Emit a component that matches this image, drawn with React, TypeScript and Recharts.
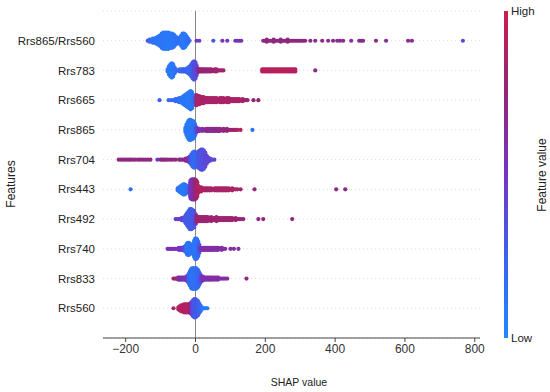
import React from 'react';
import { ScatterChart, Scatter, XAxis, YAxis, CartesianGrid, ReferenceLine } from 'recharts';

type Bin = [number, number, number]; // [SHAP value, number of samples, feature value 0..1]

const features = ['Rrs865/Rrs560', 'Rrs783', 'Rrs665', 'Rrs865', 'Rrs704', 'Rrs443', 'Rrs492', 'Rrs740', 'Rrs833', 'Rrs560'];
const xTicks = [-200, 0, 200, 400, 600, 800];

const rrs865_560: Bin[] = [
  [-137, 1, 0.4], [-132, 2, 0.2], [-127, 2, 0.15], [-122, 3, 0.15], [-117, 3, 0.15], [-112, 4, 0.12], [-107, 5, 0.12],
  [-102, 6, 0.12], [-97, 8, 0.12], [-92, 9, 0.12], [-87, 9, 0.1], [-82, 9, 0.1], [-77, 9, 0.1], [-72, 8, 0.1],
  [-67, 8, 0.1], [-62, 7, 0.12], [-57, 5, 0.12], [-53, 4, 0.15], [-49, 3, 0.15], [-45, 4, 0.15], [-41, 6, 0.12],
  [-37, 8, 0.12], [-33, 8, 0.1], [-29, 7, 0.1], [-25, 5, 0.12], [-21, 3, 0.15], [-17, 1, 0.2],
  [3, 1, 0.5], [11, 1, 0.45], [51, 1, 0.3], [77, 1, 0.55], [91, 1, 0.5], [114, 1, 0.5], [120, 1, 0.55], [126, 1, 0.5], [131, 1, 0.55],
  [194, 1, 0.75], [199, 1, 0.7], [204, 2, 0.75], [209, 1, 0.7], [214, 1, 0.75], [219, 1, 0.7], [224, 2, 0.75], [229, 1, 0.7],
  [234, 1, 0.75], [239, 1, 0.7], [244, 2, 0.7], [249, 1, 0.75], [254, 1, 0.7], [259, 1, 0.75], [264, 2, 0.7], [269, 1, 0.75],
  [274, 1, 0.7], [279, 1, 0.75], [284, 1, 0.7], [289, 1, 0.75], [294, 1, 0.7], [299, 1, 0.75], [304, 1, 0.7], [309, 1, 0.7], [314, 1, 0.75],
  [329, 1, 0.7], [343, 1, 0.65], [363, 1, 0.7], [380, 1, 0.65], [394, 1, 0.7], [406, 1, 0.65], [414, 1, 0.7], [423, 1, 0.65],
  [446, 1, 0.6], [469, 1, 0.7], [475, 1, 0.65], [480, 1, 0.7], [517, 1, 0.7], [546, 1, 0.65], [609, 1, 0.7], [620, 1, 0.65], [766, 1, 0.4],
];

const rrs783: Bin[] = [
  [-80, 2, 0.1], [-76, 5, 0.12], [-72, 7, 0.1], [-68, 8, 0.1], [-64, 7, 0.1], [-60, 4, 0.12], [-57, 2, 0.15],
  [-54, 1, 0.2], [-49, 1, 0.2], [-45, 2, 0.2], [-40, 2, 0.2], [-36, 2, 0.25], [-32, 2, 0.25], [-28, 2, 0.25], [-24, 3, 0.25],
  [-20, 4, 0.2], [-16, 5, 0.2], [-12, 7, 0.25], [-8, 9, 0.3], [-4, 10, 0.35], [0, 9, 0.35], [3, 6, 0.4], [6, 3, 0.5],
  [9, 2, 0.75], [13, 2, 0.8], [17, 2, 0.75], [21, 2, 0.8], [25, 2, 0.75], [30, 2, 0.8], [35, 2, 0.75], [40, 2, 0.8],
  [45, 2, 0.8], [50, 1, 0.75], [55, 2, 0.8], [60, 2, 0.85], [65, 1, 0.8], [70, 1, 0.8], [75, 1, 0.85], [80, 1, 0.8],
  [191, 2, 0.92], [196, 2, 0.92], [201, 2, 0.9], [206, 2, 0.92], [211, 2, 0.92], [216, 2, 0.9], [221, 2, 0.92], [226, 2, 0.92],
  [231, 2, 0.9], [236, 2, 0.92], [241, 2, 0.92], [246, 2, 0.9], [251, 2, 0.92], [256, 2, 0.92], [261, 2, 0.9], [266, 2, 0.92],
  [271, 2, 0.92], [276, 2, 0.9], [281, 2, 0.92], [286, 2, 0.9], [343, 1, 0.7],
];

const rrs665: Bin[] = [
  [-103, 1, 0.25], [-77, 1, 0.2], [-69, 1, 0.2], [-63, 1, 0.2], [-57, 2, 0.2], [-52, 2, 0.15], [-47, 3, 0.15], [-42, 3, 0.15],
  [-38, 4, 0.12], [-34, 5, 0.12], [-30, 6, 0.12], [-26, 7, 0.1], [-22, 8, 0.1], [-18, 9, 0.1], [-14, 10, 0.1], [-10, 9, 0.12],
  [-6, 6, 0.15], [-2, 3, 0.3],
  [3, 6, 0.8], [7, 5, 0.85], [11, 5, 0.85], [15, 4, 0.85], [19, 4, 0.85], [23, 4, 0.85], [27, 3, 0.85], [31, 3, 0.85],
  [35, 3, 0.85], [40, 3, 0.85], [45, 3, 0.85], [50, 3, 0.85], [55, 3, 0.85], [60, 3, 0.85], [65, 2, 0.85], [70, 3, 0.85],
  [75, 3, 0.85], [80, 3, 0.85], [85, 2, 0.85], [90, 3, 0.85], [95, 3, 0.85], [100, 2, 0.85], [105, 2, 0.85], [110, 2, 0.85],
  [115, 2, 0.85], [120, 2, 0.85], [125, 2, 0.85], [130, 1, 0.85], [135, 2, 0.85], [140, 1, 0.8], [145, 1, 0.8], [149, 1, 0.8],
  [166, 1, 0.75], [180, 1, 0.75],
];

const rrs865: Bin[] = [
  [-29, 3, 0.15], [-26, 6, 0.12], [-23, 8, 0.1], [-20, 10, 0.1], [-17, 11, 0.1], [-14, 11, 0.1], [-11, 10, 0.1],
  [-8, 10, 0.1], [-5, 9, 0.12], [-2, 7, 0.15], [0, 5, 0.2],
  [3, 3, 0.4], [7, 2, 0.5], [11, 2, 0.55], [15, 1, 0.55], [20, 2, 0.6], [25, 1, 0.6], [30, 2, 0.65], [35, 2, 0.65],
  [40, 2, 0.65], [45, 2, 0.65], [50, 2, 0.68], [55, 2, 0.68], [60, 2, 0.7], [65, 2, 0.7], [70, 2, 0.7], [75, 1, 0.72],
  [80, 2, 0.72], [85, 1, 0.75], [90, 2, 0.75], [95, 1, 0.75], [100, 1, 0.78], [105, 1, 0.8], [110, 1, 0.8], [115, 1, 0.82],
  [120, 1, 0.85], [129, 1, 0.88], [163, 1, 0.12],
];

const rrs704: Bin[] = [
  [-220, 1, 0.72], [-214, 1, 0.72], [-208, 1, 0.72], [-202, 1, 0.72], [-196, 1, 0.72], [-190, 1, 0.72], [-185, 1, 0.72],
  [-178, 1, 0.72], [-171, 1, 0.72], [-163, 1, 0.72], [-157, 1, 0.72], [-150, 1, 0.72], [-143, 1, 0.72], [-136, 1, 0.72],
  [-129, 1, 0.72], [-109, 1, 0.45], [-100, 1, 0.72], [-95, 1, 0.72], [-90, 1, 0.72], [-85, 1, 0.72], [-79, 1, 0.72], [-72, 1, 0.72],
  [-65, 1, 0.72], [-57, 1, 0.72], [-47, 1, 0.72], [-43, 1, 0.72], [-38, 1, 0.7], [-33, 1, 0.7], [-28, 2, 0.65], [-24, 2, 0.65],
  [-20, 3, 0.55], [-16, 4, 0.45],
  [-12, 6, 0.25], [-8, 8, 0.2], [-4, 9, 0.2], [0, 8, 0.2], [4, 8, 0.25], [8, 9, 0.3], [12, 10, 0.32], [16, 11, 0.35],
  [20, 11, 0.35], [24, 10, 0.35], [28, 8, 0.38], [32, 5, 0.4], [36, 3, 0.4], [42, 2, 0.4], [48, 1, 0.4], [54, 1, 0.4],
];

const rrs443: Bin[] = [
  [-186, 1, 0.15],
  [-51, 2, 0.12], [-47, 3, 0.12], [-43, 4, 0.1], [-39, 5, 0.1], [-35, 6, 0.1], [-31, 6, 0.1], [-27, 5, 0.12], [-23, 4, 0.15],
  [-19, 3, 0.25], [-15, 8, 0.45], [-14, 10, 0.5], [-10, 11, 0.55], [-6, 11, 0.6], [-2, 11, 0.7], [2, 10, 0.8], [5, 8, 0.85],
  [8, 4, 0.88], [12, 3, 0.88], [16, 3, 0.88], [20, 2, 0.85], [25, 2, 0.85], [30, 2, 0.85], [35, 2, 0.85], [40, 2, 0.85],
  [45, 2, 0.85], [50, 1, 0.8], [55, 2, 0.85], [60, 2, 0.85], [65, 2, 0.85], [70, 2, 0.85], [75, 2, 0.85], [80, 2, 0.85],
  [85, 2, 0.85], [90, 2, 0.85], [95, 2, 0.85], [100, 1, 0.85], [105, 2, 0.85], [110, 1, 0.85], [115, 1, 0.85], [120, 1, 0.85],
  [129, 1, 0.8], [169, 1, 0.75], [403, 1, 0.72], [429, 1, 0.72],
];

const rrs492: Bin[] = [
  [-57, 1, 0.45], [-52, 1, 0.45], [-48, 1, 0.45], [-44, 1, 0.45], [-40, 2, 0.45], [-36, 2, 0.4],
  [-32, 3, 0.35], [-28, 5, 0.3], [-24, 7, 0.3], [-20, 9, 0.28], [-16, 11, 0.28], [-12, 11, 0.28], [-8, 10, 0.3], [-4, 9, 0.32], [0, 6, 0.4],
  [3, 4, 0.75], [7, 3, 0.8], [11, 3, 0.8], [15, 3, 0.8], [19, 3, 0.8], [23, 3, 0.8], [27, 3, 0.8], [31, 3, 0.8],
  [35, 3, 0.8], [40, 2, 0.8], [45, 3, 0.8], [50, 2, 0.8], [55, 2, 0.8], [60, 3, 0.8], [65, 2, 0.8], [70, 2, 0.8],
  [75, 2, 0.8], [80, 2, 0.8], [85, 2, 0.8], [90, 2, 0.8], [95, 2, 0.8], [100, 2, 0.8], [105, 2, 0.8], [110, 1, 0.8],
  [115, 2, 0.8], [120, 1, 0.78], [125, 1, 0.78], [130, 1, 0.78], [137, 1, 0.75], [180, 1, 0.72], [194, 1, 0.72], [277, 1, 0.72],
];

const rrs740: Bin[] = [
  [-80, 1, 0.55], [-76, 1, 0.55], [-72, 1, 0.55], [-68, 1, 0.55], [-64, 1, 0.55], [-60, 1, 0.55], [-56, 1, 0.55], [-52, 1, 0.5],
  [-48, 2, 0.5], [-44, 2, 0.5], [-40, 2, 0.45], [-36, 2, 0.45], [-32, 3, 0.4],
  [-28, 4, 0.2], [-25, 6, 0.15], [-22, 7, 0.12], [-19, 7, 0.12], [-16, 6, 0.12], [-13, 5, 0.12], [-10, 4, 0.15],
  [-7, 6, 0.15], [-4, 9, 0.12], [-1, 11, 0.12], [2, 11, 0.12], [5, 10, 0.15], [8, 8, 0.2], [11, 5, 0.3],
  [14, 2, 0.55], [18, 2, 0.55], [22, 2, 0.6], [26, 2, 0.6], [30, 2, 0.6], [34, 2, 0.6], [38, 2, 0.6], [42, 2, 0.6],
  [46, 2, 0.6], [50, 2, 0.6], [55, 2, 0.6], [60, 2, 0.6], [65, 2, 0.6], [70, 1, 0.6], [75, 2, 0.6], [80, 1, 0.6], [85, 1, 0.6],
  [100, 1, 0.6], [110, 1, 0.6], [123, 1, 0.65],
];

const rrs833: Bin[] = [
  [-63, 1, 0.85], [-58, 1, 0.85], [-54, 1, 0.7], [-50, 2, 0.65], [-46, 2, 0.65], [-42, 2, 0.6], [-38, 2, 0.6], [-34, 2, 0.55],
  [-30, 2, 0.55], [-26, 3, 0.5], [-22, 4, 0.4],
  [-19, 6, 0.2], [-16, 8, 0.18], [-13, 10, 0.15], [-10, 11, 0.15], [-7, 11, 0.15], [-4, 11, 0.15], [-1, 11, 0.15], [2, 11, 0.15],
  [5, 10, 0.18], [8, 9, 0.2], [11, 7, 0.22], [14, 5, 0.3],
  [17, 3, 0.5], [21, 3, 0.55], [25, 2, 0.55], [29, 2, 0.55], [33, 2, 0.55], [37, 2, 0.6], [41, 2, 0.6], [45, 2, 0.6],
  [50, 2, 0.6], [55, 2, 0.6], [60, 2, 0.6], [65, 2, 0.6], [70, 1, 0.6], [75, 1, 0.6], [80, 1, 0.6], [85, 1, 0.6],
  [91, 1, 0.65], [146, 1, 0.72],
];

const rrs560: Bin[] = [
  [-63, 1, 0.85], [-49, 2, 0.88], [-45, 3, 0.9], [-41, 4, 0.9], [-37, 4, 0.9], [-33, 5, 0.9], [-29, 5, 0.9], [-25, 5, 0.88],
  [-21, 5, 0.88], [-17, 5, 0.85], [-14, 6, 0.8],
  [-11, 7, 0.45], [-7, 9, 0.35], [-3, 10, 0.3], [0, 10, 0.28], [3, 9, 0.3], [7, 8, 0.3], [10, 6, 0.25], [14, 4, 0.2],
  [18, 2, 0.12], [22, 1, 0.1], [26, 1, 0.1], [30, 1, 0.1], [34, 1, 0.1],
];

const rows: Bin[][] = [rrs865_560, rrs783, rrs665, rrs865, rrs704, rrs443, rrs492, rrs740, rrs833, rrs560];

const stops: [number, [number, number, number]][] = [
  [0, [30, 136, 255]],
  [0.25, [58, 98, 238]],
  [0.5, [118, 52, 196]],
  [0.75, [145, 38, 120]],
  [1, [204, 30, 78]],
];

function colorOf(t: number): string {
  for (let i = 1; i < stops.length; i++) {
    if (t <= stops[i][0]) {
      const [t0, c0] = stops[i - 1];
      const [t1, c1] = stops[i];
      const f = (t - t0) / (t1 - t0);
      const c = c0.map((v, k) => Math.round(v + (c1[k] - v) * f));
      return `rgb(${c[0]},${c[1]},${c[2]})`;
    }
  }
  const c = stops[stops.length - 1][1];
  return `rgb(${c[0]},${c[1]},${c[2]})`;
}

const LAYER = 0.068;

type Pt = { x: number; y: number; c: string };
const points: Pt[] = [];
rows.forEach((bins, i) => {
  bins.forEach(([v, n, fv]) => {
    for (let k = 0; k < n; k++) {
      let off: number;
      if (n % 2 === 1) {
        off = k === 0 ? 0 : Math.ceil(k / 2) * (k % 2 ? 1 : -1);
      } else {
        off = (Math.floor(k / 2) + 0.5) * (k % 2 ? -1 : 1);
      }
      points.push({ x: v, y: i + off * LAYER, c: colorOf(fv) });
    }
  });
});

const FONT = '"Liberation Sans", Arial, sans-serif';

const Dot = (props: any) => {
  const { cx, cy, payload } = props;
  if (cx == null || cy == null) return null;
  return <circle cx={cx} cy={cy} r={2.1} fill={payload.c} />;
};

export default function App() {
  return (
    <div style={{ position: 'absolute', left: 0, top: 0, width: 550, height: 392, background: '#fff', fontFamily: FONT }}>
      <ScatterChart width={550} height={392} margin={{ top: 11, right: 70, bottom: 24, left: 0 }}>
        <CartesianGrid horizontal vertical={false} stroke="#dcdcdc" strokeDasharray="1 3" />
        <XAxis
          type="number"
          dataKey="x"
          domain={[-265, 815]}
          ticks={xTicks}
          allowDataOverflow
          height={30}
          tickSize={4}
          stroke="#444"
          tick={{ fill: '#333', fontSize: 12, fontFamily: FONT }}
          tickFormatter={(v: number) => String(v).replace('-', '\u2212')}
        />
        <YAxis
          type="number"
          dataKey="y"
          domain={[-1, 10]}
          reversed
          ticks={[0, 1, 2, 3, 4, 5, 6, 7, 8, 9]}
          interval={0}
          width={103}
          axisLine={false}
          tickLine={false}
          tick={{ fill: '#222', fontSize: 11.5, fontFamily: FONT }}
          tickFormatter={(v: number) => features[v] ?? ''}
        />
        <ReferenceLine x={0} stroke="#888" strokeWidth={1} />
        <Scatter data={points} shape={Dot} isAnimationActive={false} />
      </ScatterChart>
      <svg width={550} height={392} style={{ position: 'absolute', left: 0, top: 0, pointerEvents: 'none' }}>
        <defs>
          <linearGradient id="cbar" x1="0" y1="1" x2="0" y2="0">
            {stops.map(([t, c]) => (
              <stop key={t} offset={t} stopColor={`rgb(${c[0]},${c[1]},${c[2]})`} />
            ))}
          </linearGradient>
        </defs>
        <rect x={504} y={11} width={4} height={327} fill="url(#cbar)" />
        <text x={511} y={15} fontSize={11.5} fill="#222" fontFamily={FONT}>High</text>
        <text x={511} y={342} fontSize={11.5} fill="#222" fontFamily={FONT}>Low</text>
        <text x={546} y={175} fontSize={12} fill="#222" fontFamily={FONT} textAnchor="middle" transform="rotate(-90 546 175)">Feature value</text>
        <text x={15} y={184} fontSize={12} fill="#222" fontFamily={FONT} textAnchor="middle" transform="rotate(-90 15 184)">Features</text>
        <text x={299} y={386} fontSize={10.5} fill="#222" fontFamily={FONT} textAnchor="middle">SHAP value</text>
      </svg>
    </div>
  );
}
